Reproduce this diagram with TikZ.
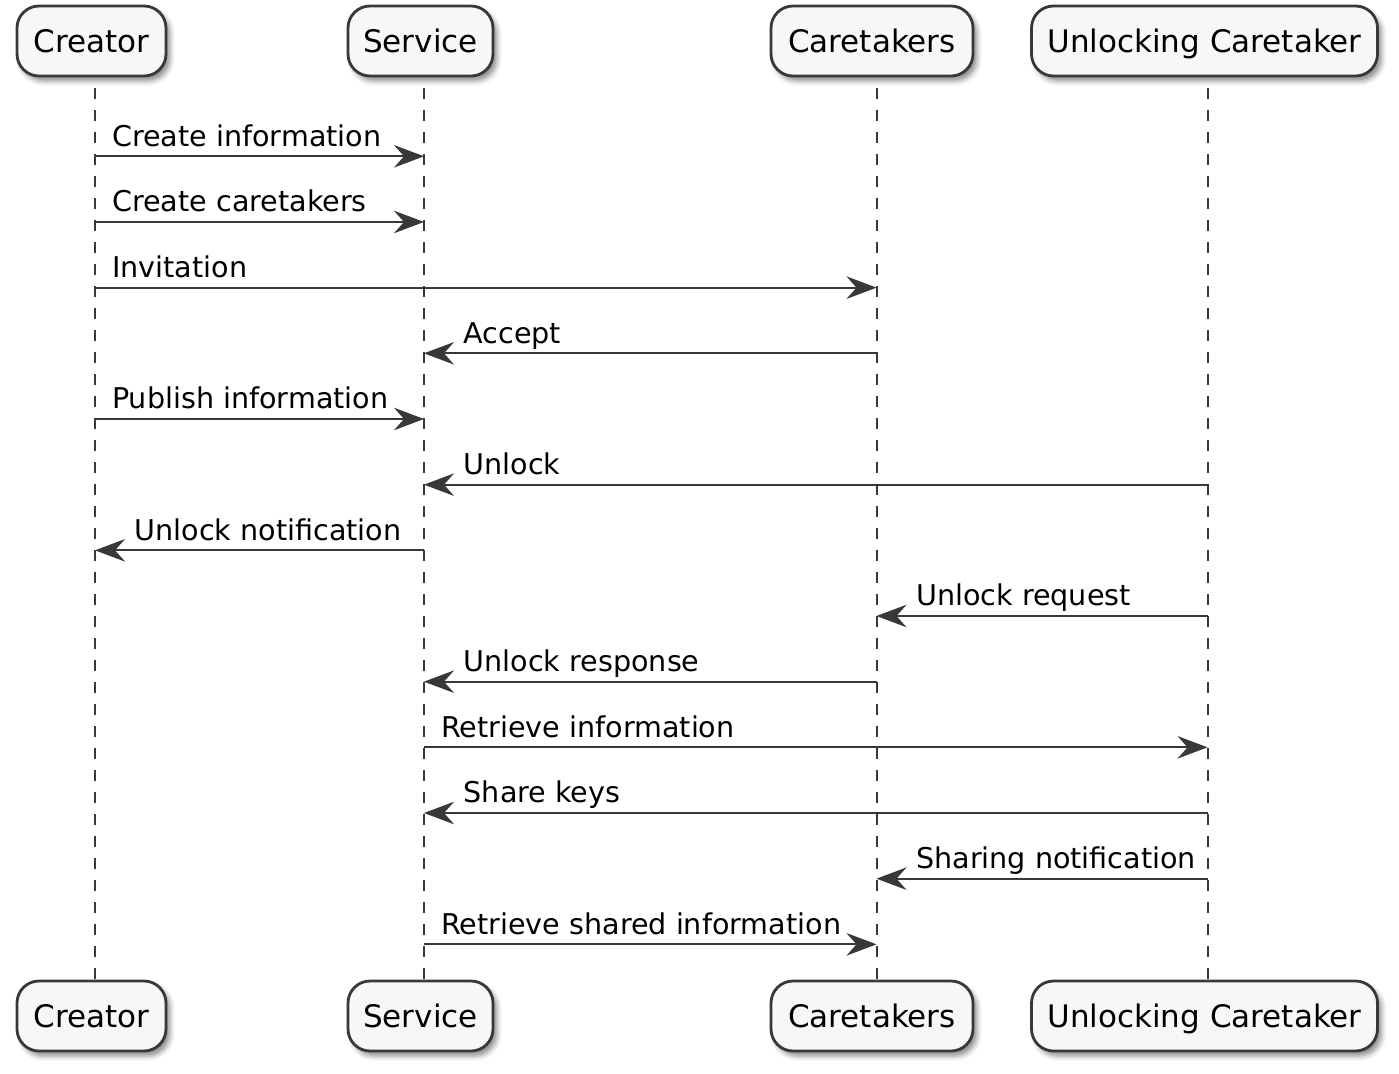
\documentclass[tikz,border=0pt]{standalone}
\usepackage{fontspec}
\setmainfont{DejaVu Sans}
\usepackage{tikz}
\usetikzlibrary{arrows.meta}
\usetikzlibrary{shadows.blur}
\usetikzlibrary{positioning}
\definecolor{LineGray}{HTML}{383838}
\definecolor{BoxFill}{HTML}{F7F7F7}

\tikzset{
  actor/.style={draw=LineGray, line width=2.8pt, fill=BoxFill, rounded corners=22pt,
    minimum height=70pt, inner sep=0pt, text height=23.4pt, text depth=0pt,
    font=\fontsize{31}{37}\selectfont,
    blur shadow={shadow xshift=4pt, shadow yshift=-5pt, shadow blur radius=5pt, shadow opacity=45}},
  lifeline/.style={draw=LineGray, line width=2pt, dash pattern=on 11pt off 11pt, dash phase=11pt},
  msg/.style={draw=LineGray, line width=2pt,
    -{Stealth[length=30pt, width=22.5pt, inset=10pt, fill=LineGray]}},
  msgtext/.style={anchor=base west, inner sep=0pt, font=\fontsize{28.6}{34}\selectfont}
}

\begin{document}
\begin{tikzpicture}[x=1pt, y=-1pt]

\useasboundingbox (0,0) rectangle (1399,1073);

% lifeline positions
\coordinate (cre) at (95,0);
\coordinate (srv) at (424,0);
\coordinate (crt) at (876.5,0);
\coordinate (unl) at (1207.5,0);

% participants, top and bottom
\node[actor, minimum width=149pt] (creT) at (91.5,41) {Creator};
\node[actor, minimum width=145pt] (srvT) at (420.5,41) {Service};
\node[actor, minimum width=202pt] (crtT) at (872,41) {Caretakers};
\node[actor, minimum width=346pt] (unlT) at (1204.5,41) {Unlocking Caretaker};

\node[actor, minimum width=149pt] (creB) at (91.5,1016) {Creator};
\node[actor, minimum width=145pt] (srvB) at (420.5,1016) {Service};
\node[actor, minimum width=202pt] (crtB) at (872,1016) {Caretakers};
\node[actor, minimum width=346pt] (unlB) at (1204.5,1016) {Unlocking Caretaker};

% dashed lifelines
\foreach \p in {cre,srv,crt,unl}
  \draw[lifeline] (\p |- \p T.south) -- (\p |- \p B.north);

% messages to the right
\foreach \i/\a/\b/\txt in {1/cre/srv/Create information,
                           2/cre/srv/Create caretakers,
                           3/cre/crt/Invitation,
                           5/cre/srv/Publish information,
                           10/srv/unl/Retrieve information,
                           13/srv/crt/Retrieve shared information}{
  \pgfmathsetmacro\yy{156.3+65.67*(\i-1)}
  \coordinate (m\i) at (0,\yy);
  \draw[msg] (\a |- m\i) -- (\b |- m\i);
  \node[msgtext] at ([xshift=17pt, yshift=10.3pt]\a |- m\i) {\txt};
}

% messages to the left
\foreach \i/\a/\b/\txt in {4/crt/srv/Accept,
                           6/unl/srv/Unlock,
                           7/srv/cre/Unlock notification,
                           8/unl/crt/Unlock request,
                           9/crt/srv/Unlock response,
                           11/unl/srv/Share keys,
                           12/unl/crt/Sharing notification}{
  \pgfmathsetmacro\yy{156.3+65.67*(\i-1)}
  \coordinate (m\i) at (0,\yy);
  \draw[msg] (\a |- m\i) -- (\b |- m\i);
  \node[msgtext] at ([xshift=39.5pt, yshift=10.3pt]\b |- m\i) {\txt};
}

\end{tikzpicture}
\end{document}
